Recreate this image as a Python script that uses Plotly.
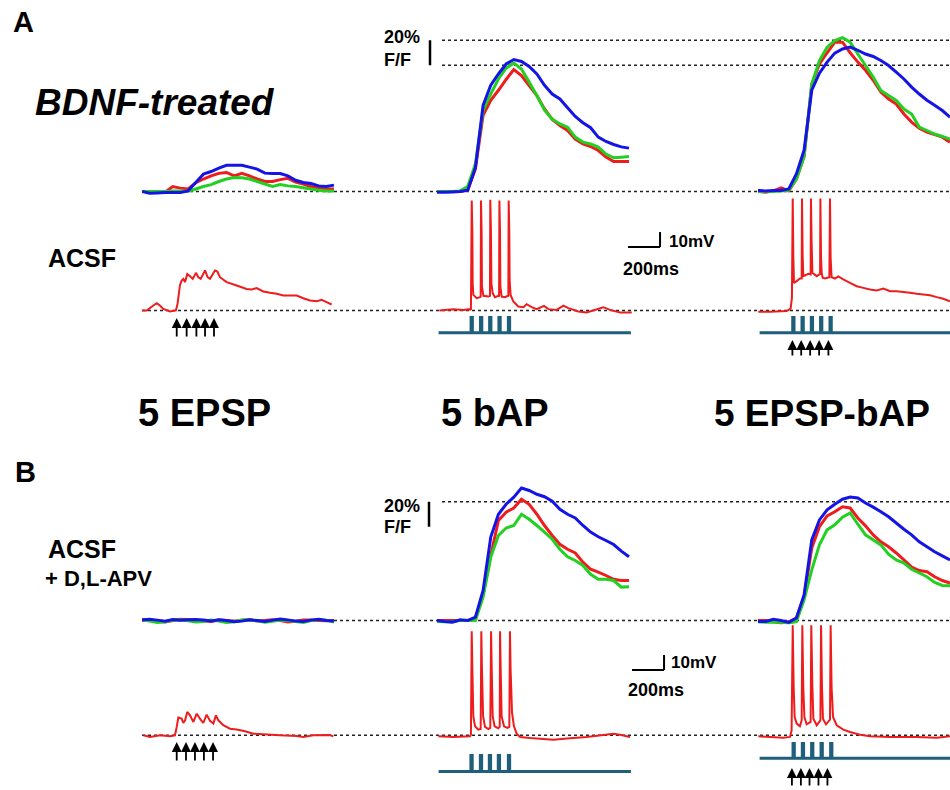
import plotly.graph_objects as go

W, H = 950, 790
MS_PER_PX = 6.25  # 200 ms scale bar spans 32 px

# ---------------- DATA ----------------
FRAME_T = [0, 48, 96, 144, 192, 240, 288, 336, 384, 432, 480, 528, 576,
           624, 672, 720, 768, 816, 864, 912, 960, 1008, 1056, 1104, 1152, 1200]

# Calcium (% dF/F), panel A (BDNF-treated)
A_EPSP_CA_RED = [0, 0, 0, -0.5, 4, 2.7, 2, 7, 10, 12.5, 14.5, 15.2, 12.5, 14.5, 12.5, 10, 8, 8, 9.5, 10.5, 7.5, 6, 4, 3, 2, 2]
A_EPSP_CA_GREEN = [0, 0, 0, 0, 0.5, 0.5, 0.3, 2, 4, 5.5, 8, 10, 11.2, 11, 10, 8, 6, 4, 5.5, 4.5, 4, 3, 2, 1, 0.5, 0.5]
A_EPSP_CA_BLUE = [0, -1.3, -1.1, -0.8, -0.8, -0.8, 0.5, 7.2, 13.9, 16, 18.7, 21, 21, 21, 19.5, 17.9, 14.7, 14.4, 14.4, 12.5, 9, 7.2, 6.4, 4.5, 4, 5.1]

A_BAP_CA_RED = [0, 0, 0, 0, 1, 18, 61, 73, 81, 89.6, 97.6, 92.8, 84.8, 76.8, 66, 57.6, 52.8, 48.8, 42, 38, 36, 32.8, 27.5, 24, 24, 24]
A_BAP_CA_GREEN = [0, 0, 0, 0.5, 4, 22, 65, 78, 90, 98.7, 102.7, 98, 87.5, 76.8, 65, 58, 54, 51.5, 43.5, 39.5, 38, 35.5, 30, 27, 27.5, 28]
A_BAP_CA_BLUE = [-0.5, -0.5, -0.3, 0, 1, 19, 69, 85, 94, 102, 105.6, 104, 100, 94, 85, 78, 74, 67, 60, 55, 51, 43.5, 40, 37.6, 35.7, 34.7]

A_EB_CA_RED = [0, -0.5, 0.5, 3, 0.5, 10, 28, 86, 102, 111, 119.5, 119.5, 111, 103.5, 97, 89, 79.5, 74, 70, 62, 55.5, 50.7, 47.5, 45.6, 43.5, 39.5]
A_EB_CA_GREEN = [0, 0, 0, 0.5, 1, 10, 28, 86, 104.8, 115.5, 120.8, 123, 119.5, 110, 100.8, 91.5, 80.8, 76.8, 72.8, 66, 62, 51.5, 48.8, 46, 44, 42]
A_EB_CA_BLUE = [0.8, 0.5, 0.8, 0.8, 2, 14, 33, 81, 94.7, 103.5, 110.7, 114, 115.5, 113, 110, 108, 104.8, 100.8, 95.5, 90, 83.5, 78, 73, 69, 64.8, 59.5]

# Calcium (% dF/F), panel B (ACSF + D,L-APV)
B_EPSP_CA_RED = [0.2, 0.3, -0.8, -1.2, 0.0, 1.0, 0.6, 0.2, -0.5, -0.8, 0.4, 0.0, -0.6, 0.2, 0.5, -0.4, 0.0, 0.6, 0.0, -1.2, -0.6, 0.4, 0.3, 0.0, -0.3, 0.0]
B_EPSP_CA_GREEN = [0.6, -0.5, -1.5, -1.0, 0.2, 0.5, -0.3, -1.2, -0.8, 0.3, -0.5, -1.6, -1.0, 0.4, 0.6, -0.3, -1.4, -0.6, 0.4, 0.0, -0.8, -1.5, 0.0, 0.8, 0.3, -1.2]
B_EPSP_CA_BLUE = [0.5, 1.0, 0.3, -0.5, 0.8, 0.2, 0.5, 0.8, 0.3, -0.3, 0.5, 0.0, -1.0, -0.5, 0.6, 0.0, -0.8, 0.3, 1.2, 0.5, -0.5, -0.8, 0.3, 1.0, 0.0, -0.5]

B_BAP_CA_RED = [0, 0, 0, 0, 0, 2, 21, 52, 80, 86.7, 90, 97, 93, 85, 76, 68, 61, 57, 54, 46.7, 41, 38.7, 36, 33, 32, 32]
B_BAP_CA_GREEN = [-0.8, -1, -1, 0, 0, 0, 18.7, 50.7, 68, 74, 76, 85, 81, 76, 70.7, 65, 57, 51, 48, 44, 37, 33, 33, 32, 26.7, 27]
B_BAP_CA_BLUE = [0, -0.8, -1.3, 0.5, 0, 2.7, 24, 66.7, 85, 93, 98.7, 106, 104, 101, 99, 95.5, 89, 85, 82, 76, 70.7, 67, 64, 60.8, 55.5, 51]

B_EB_CA_RED = [0, 0, -1, -2, -1, 2, 19, 58, 75, 83.7, 87, 91, 90, 82, 75.7, 68.5, 63, 59, 54, 48.5, 42.7, 40, 39, 35, 32, 30]
B_EB_CA_GREEN = [-1, -1.5, -1.5, -1.5, -2, -1, 16.5, 40.5, 60.5, 72.5, 76.5, 82.7, 86, 77, 68.5, 64.5, 60.5, 53, 48.5, 46, 41, 38, 35, 30.4, 28, 27.7]
B_EB_CA_BLUE = [-0.8, -0.8, 1, 0, -1.6, 2, 20.5, 64.5, 80.5, 88.5, 93, 97, 98.7, 98, 94, 90.7, 87, 83, 78, 73, 68.5, 63, 59, 55, 51.7, 48.5]

# Reference peak levels (dotted lines) in % dF/F
A_CA_REFS = [101, 121]
B_CA_REFS = [95]
CA_SCALE = 20   # % dF/F
V_SCALE = 10    # mV
T_SCALE = 200   # ms

# Membrane potential (mV above rest), time in ms
A_EPSP_V_T = [0, 29, 71, 92, 112, 133, 175, 212, 222, 237, 248, 258, 269, 283, 300, 317, 337, 352, 367, 394, 410, 425, 456, 471, 487, 529, 592, 654, 685, 717, 758, 800, 842, 883, 925, 967, 1008, 1050, 1092, 1123, 1154, 1185]
A_EPSP_V = [0, 0, 3.3, 4.9, 3.3, 1.1, -0.7, 0, 4.4, 16.7, 20, 21.1, 18.9, 24.4, 22.9, 21.1, 25.1, 22.2, 21.1, 26.7, 22.2, 21.1, 26.7, 26, 22.2, 18.9, 16.7, 14.4, 14, 14.9, 12.7, 11.8, 11.1, 10, 10, 10, 8.2, 6.7, 6.2, 7.1, 5.6, 4]

A_BAP_V_T = [15, 102, 165, 206, 212, 217, 221, 223, 227, 248, 269, 273, 275, 279, 281, 290, 321, 331, 333, 337, 340, 348, 362, 383, 388, 390, 394, 396, 404, 425, 442, 446, 448, 452, 454, 460, 477, 508, 540, 560, 592, 623, 669, 696, 748, 790, 821, 883, 935, 1040, 1081, 1144, 1217]
A_BAP_V = [0, 0.9, 0.4, 0.9, 0.4, 73.3, 51.6, 18, 10.4, 8.2, 8.9, 9.3, 73.3, 51.6, 16, 9.8, 9.3, 9.8, 73.8, 53.8, 18, 11.6, 8.9, 9.8, 9.3, 73.3, 51.6, 16, 9.3, 8.9, 9.8, 9.3, 73.3, 51.6, 20.4, 10.4, 6, 2.7, 2.2, 4.2, 2.2, 0.9, 3.1, 0.9, 0.4, 3.3, 1.6, -0.7, -1.3, 2.2, 0.4, -1.3, -1.3]

A_EB_V_T = [2, 75, 179, 204, 212, 217, 221, 225, 242, 262, 273, 275, 279, 283, 315, 329, 331, 335, 340, 367, 388, 390, 394, 398, 404, 419, 446, 450, 454, 460, 481, 502, 533, 575, 617, 658, 700, 742, 783, 825, 867, 908, 950, 992, 1033, 1075, 1117, 1158, 1200]
A_EB_V = [-0.9, -0.9, -0.4, 1.3, 8.4, 74.7, 35, 18.4, 19.6, 21.3, 21.3, 74.7, 37, 22.9, 24.4, 24, 74.7, 46, 25.1, 22.9, 24.4, 74.7, 35, 25.1, 21.8, 21.3, 22.2, 74.7, 35, 22.2, 21.3, 22.7, 20.7, 18.4, 16.2, 15.1, 14, 13.3, 14.7, 12.9, 12.9, 12.4, 11.8, 11.1, 10.7, 10.2, 8.9, 7.8, 6.2]

B_EPSP_V_T = [8, 50, 112, 175, 206, 217, 227, 248, 258, 269, 283, 300, 321, 342, 362, 383, 404, 425, 446, 462, 477, 508, 550, 592, 644, 696, 758, 862, 967, 1008, 1071, 1175, 1196]
B_EPSP_V = [0, -1.1, 0, -0.7, 0, 5.6, 11.8, 11.1, 8.2, 10, 15.6, 13.3, 8.9, 14.4, 11.1, 8.2, 13.8, 9.6, 7.8, 13.3, 10, 6.7, 4.4, 3.8, 2.7, 1.1, 0.7, 0, -0.4, -1.1, 0, 0.2, -0.7]

B_BAP_V_T = [8, 102, 206, 212, 217, 221, 227, 238, 258, 273, 277, 281, 288, 300, 321, 333, 338, 342, 348, 360, 383, 392, 394, 398, 404, 419, 440, 452, 456, 460, 469, 481, 498, 519, 581, 727, 831, 935, 1040, 1102, 1144, 1206]
B_BAP_V = [-0.7, -1.1, -0.7, 0.4, 69.3, 43.8, 12.7, 6, 3.8, 4.2, 69.3, 43.8, 12.7, 5.6, 4.2, 4.9, 69.3, 43.8, 12.7, 6, 4.7, 5.6, 69.3, 43.8, 12.7, 6, 4.9, 5.6, 69.3, 43.8, 14.9, 6, 1.1, -1.1, -1.8, -2.9, -2, -1.1, 0.2, 1.1, 0.4, -1.1]

B_EB_V_T = [2, 75, 158, 200, 210, 217, 223, 229, 242, 262, 273, 277, 283, 290, 304, 329, 333, 340, 346, 367, 390, 394, 400, 406, 425, 450, 454, 460, 469, 492, 533, 575, 638, 700, 825, 992, 1117, 1200]
B_EB_V = [-0.7, -1.1, -1.6, -1.1, 3.3, 73.3, 32, 12.2, 7.8, 6, 10, 73.3, 32, 12.2, 7.3, 8.9, 73.3, 32, 11.1, 6.7, 10, 73.3, 32, 11.1, 7.3, 10.4, 73.3, 32, 12.2, 6.7, 3.8, 2.2, 0.4, -0.7, -1.1, -1.1, -1.6, -0.7]

# Current-injection pulses (onset ms), pulse length, and trace extent
A_BAP_STIM_ON = [213, 272, 329, 387, 446]
A_EB_STIM_ON = [217, 275, 333, 391, 450]
B_BAP_STIM_ON = [212, 271, 327, 383, 446]
B_EB_STIM_ON = [219, 277, 335, 394, 454]
PULSE_MS = 8
STIM_START, STIM_END = 10, 1212

# Synaptic stimulation arrows (ms)
A_EPSP_ARROWS = [217, 279, 340, 394, 450]
A_EB_ARROWS = [215, 270, 326, 382, 440]
B_EPSP_ARROWS = [217, 275, 331, 387, 444]
B_EB_ARROWS = [212, 268, 322, 378, 434]

# ---------------- STYLE / LAYOUT ----------------
RED, GREEN, BLUE, TEAL = "#ee1c1c", "#22d022", "#1414e6", "#1f5f7c"
FONT = "Liberation Sans, Arial, Helvetica, sans-serif"

COL_PX = [(142, 437), (437, 758), (758, 950)]   # left/right pixel edges of columns
# rows: (baseline px, px per unit, top px, bottom px)
ROWS = {
    "A_ca": (191.5, 1.25, 25, 196),
    "A_v": (310.5, 1.5, 196, 316),
    "A_st2": (332.7, 16, 316, 342),
    "A_st3": (332.7, 16, 316, 342),
    "B_ca": (620.5, 1.25, 480, 624.5),
    "B_v": (735.3, 1.5, 624.5, 742),
    "B_st2": (771.5, 16, 750, 780),
    "B_st3": (758.3, 15, 742, 766),
}
ROW_ID = {k: i + 1 for i, k in enumerate(ROWS)}


def ax_name(i, letter):
    return letter if i == 1 else f"{letter}{i}"


layout = dict(width=W, height=H, margin=dict(l=0, r=0, t=0, b=0),
              paper_bgcolor="white", plot_bgcolor="rgba(0,0,0,0)",
              showlegend=False, font=dict(family=FONT, color="black"))
for i, (x0, x1) in enumerate(COL_PX, start=1):
    layout[f"xaxis{'' if i == 1 else i}"] = dict(
        domain=[x0 / W, x1 / W], range=[0, (x1 - x0) * MS_PER_PX], visible=False)
for k, (base, ppu, top, bot) in ROWS.items():
    i = ROW_ID[k]
    layout[f"yaxis{'' if i == 1 else i}"] = dict(
        domain=[1 - bot / H, 1 - top / H],
        range=[-(bot - base) / ppu, (base - top) / ppu], visible=False)

fig = go.Figure()


def add_line(x, y, col, row, color, width):
    fig.add_trace(go.Scatter(x=x, y=y, mode="lines",
                             line=dict(color=color, width=width, simplify=False),
                             xaxis=ax_name(col, "x"), yaxis=ax_name(ROW_ID[row], "y")))


def stim_trace(onsets):
    t, v = [STIM_START], [0]
    for on in onsets:
        t += [on, on, on + PULSE_MS, on + PULSE_MS]
        v += [0, 1, 1, 0]
    t.append(STIM_END)
    v.append(0)
    return t, v


# dotted reference lines
shapes = []


def hline(row, val, x0px, x1px=W):
    shapes.append(dict(type="line", xref="paper", yref=ax_name(ROW_ID[row], "y"),
                       x0=x0px / W, x1=x1px / W, y0=val, y1=val, layer="below",
                       line=dict(color="#222222", width=1.6, dash="dot")))


for row in ["A_ca", "A_v", "B_ca", "B_v"]:
    hline(row, 0, 142)
for r in A_CA_REFS:
    hline("A_ca", r, 442)
for r in B_CA_REFS:
    hline("B_ca", r, 442)

# calcium traces
ca_sets = [
    ("A_ca", 1, A_EPSP_CA_RED, A_EPSP_CA_GREEN, A_EPSP_CA_BLUE),
    ("A_ca", 2, A_BAP_CA_RED, A_BAP_CA_GREEN, A_BAP_CA_BLUE),
    ("A_ca", 3, A_EB_CA_RED, A_EB_CA_GREEN, A_EB_CA_BLUE),
    ("B_ca", 1, B_EPSP_CA_RED, B_EPSP_CA_GREEN, B_EPSP_CA_BLUE),
    ("B_ca", 2, B_BAP_CA_RED, B_BAP_CA_GREEN, B_BAP_CA_BLUE),
    ("B_ca", 3, B_EB_CA_RED, B_EB_CA_GREEN, B_EB_CA_BLUE),
]
for row, col, r, g, b in ca_sets:
    add_line(FRAME_T, r, col, row, RED, 3)
    add_line(FRAME_T, g, col, row, GREEN, 3)
    add_line(FRAME_T, b, col, row, BLUE, 3)

# voltage traces
v_sets = [
    ("A_v", 1, A_EPSP_V_T, A_EPSP_V), ("A_v", 2, A_BAP_V_T, A_BAP_V), ("A_v", 3, A_EB_V_T, A_EB_V),
    ("B_v", 1, B_EPSP_V_T, B_EPSP_V), ("B_v", 2, B_BAP_V_T, B_BAP_V), ("B_v", 3, B_EB_V_T, B_EB_V),
]
for row, col, t, v in v_sets:
    add_line(t, v, col, row, RED, 2)

# stimulus traces
for row, col, ons in [("A_st2", 2, A_BAP_STIM_ON), ("A_st3", 3, A_EB_STIM_ON),
                      ("B_st2", 2, B_BAP_STIM_ON), ("B_st3", 3, B_EB_STIM_ON)]:
    t, v = stim_trace(ons)
    add_line(t, v, col, row, TEAL, 3)


# scale bars
def vbar_ca(row, top_val, xpx):
    shapes.append(dict(type="line", xref="paper", yref=ax_name(ROW_ID[row], "y"),
                       x0=xpx / W, x1=xpx / W, y0=top_val - CA_SCALE, y1=top_val,
                       line=dict(color="black", width=2.5)))


vbar_ca("A_ca", A_CA_REFS[1], 430)
vbar_ca("B_ca", B_CA_REFS[0], 429)


def v_scale(row, t0, v0):
    yr = ax_name(ROW_ID[row], "y")
    shapes.append(dict(type="line", xref="x2", yref=yr, x0=t0, x1=t0 + T_SCALE, y0=v0, y1=v0,
                       line=dict(color="black", width=2)))
    shapes.append(dict(type="line", xref="x2", yref=yr, x0=t0 + T_SCALE, x1=t0 + T_SCALE,
                       y0=v0, y1=v0 + V_SCALE, line=dict(color="black", width=2)))


v_scale("A_v", 1194, 42.3)
v_scale("B_v", 1219, 43.5)

annotations = []


def text(s, xpx, ypx, size, anchor="left"):
    annotations.append(dict(text=s, xref="paper", yref="paper", x=xpx / W, y=1 - ypx / H,
                            xanchor=anchor, yanchor="middle", showarrow=False,
                            font=dict(family=FONT, size=size, color="black")))


def arrows(times, col, tip_py, length):
    for t in times:
        annotations.append(dict(text="", xref=ax_name(col, "x"), yref="paper",
                                x=t, y=1 - tip_py / H, ax=0, ay=length,
                                showarrow=True, arrowhead=2, arrowsize=1.1,
                                arrowwidth=1.8, arrowcolor="black", standoff=0))


arrows(A_EPSP_ARROWS, 1, 318, 20)
arrows(A_EB_ARROWS, 3, 340, 17)
arrows(B_EPSP_ARROWS, 1, 742, 20)
arrows(B_EB_ARROWS, 3, 768, 19)

text("<b>A</b>", 11, 22, 29)
text("<b><i>BDNF-treated</i></b>", 33, 102, 37)
text("<b>ACSF</b>", 46, 258, 25)
text("<b>20%</b>", 382, 37, 18)
text("<b>F/F</b>", 382, 60, 18)
text("<b>10mV</b>", 667, 241, 17)
text("<b>200ms</b>", 621, 269, 18)
text("<b>5 EPSP</b>", 204, 413, 38, "center")
text("<b>5 bAP</b>", 495, 413, 38, "center")
text("<b>5 EPSP-bAP</b>", 822, 413, 37, "center")
text("<b>B</b>", 13, 472, 29)
text("<b>ACSF</b>", 46, 549, 25)
text("<b>+ D,L-APV</b>", 43, 578, 22)
text("<b>20%</b>", 382, 506, 18)
text("<b>F/F</b>", 382, 527, 18)
text("<b>10mV</b>", 669, 662, 17)
text("<b>200ms</b>", 626, 690, 18)

layout["shapes"] = shapes
layout["annotations"] = annotations
fig.update_layout(**layout)

fig.write_html("out.html", config={"displayModeBar": False},
               post_script="document.body.style.margin='0';document.body.style.overflow='hidden';")
